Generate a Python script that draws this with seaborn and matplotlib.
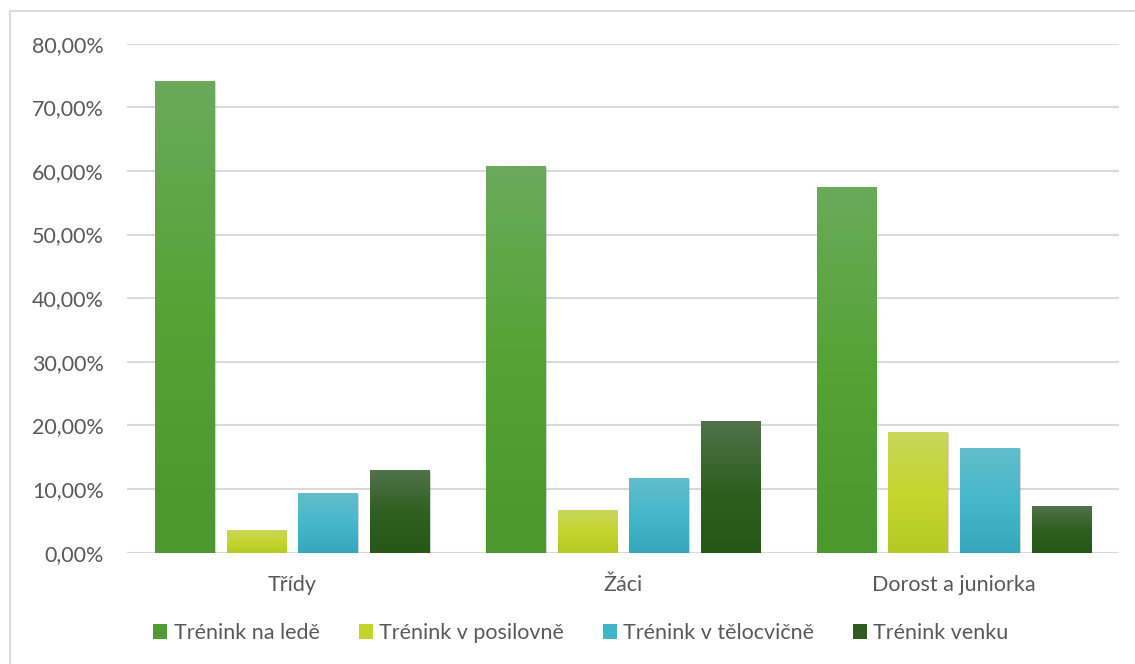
import numpy as np
import pandas as pd
import matplotlib
matplotlib.use("Agg")
import matplotlib.pyplot as plt
import matplotlib.patheffects as pe
from matplotlib.colors import to_rgb
from matplotlib.patches import Rectangle
from matplotlib.ticker import FuncFormatter
import seaborn as sns

# =========================
# DATA
# =========================

categories = ["Třídy", "Žáci", "Dorost a juniorka"]
series = ["Trénink na ledě", "Trénink v posilovně", "Trénink v tělocvičně", "Trénink venku"]

na_lede = [0.742, 0.608, 0.574]
posilovna = [0.036, 0.067, 0.190]
telocvicna = [0.094, 0.118, 0.165]
venku = [0.130, 0.207, 0.073]

colors = ["#4f9c33", "#c4d42e", "#3eb5c8", "#2d5c1e"]
# top / middle / bottom of the gradient fill for each series
gradients = [
    ["#6aaa5a", "#55a335", "#4a982e"],
    ["#c9d55a", "#c5d62f", "#b6c823"],
    ["#62bdcb", "#45b8cb", "#34a7ba"],
    ["#50724a", "#2f6020", "#275717"],
]

rows = []
for s, vals in zip(series, [na_lede, posilovna, telocvicna, venku]):
    for c, v in zip(categories, vals):
        rows.append({"kategorie": c, "serie": s, "hodnota": v})
df = pd.DataFrame(rows)

# =========================
# PLOT
# =========================

sns.set_theme(style="white")
plt.rcParams["font.family"] = ["Lato", "DejaVu Sans"]
TEXT = "#595959"
GRID = "#d9d9d9"
FS = 15.5

W, H = 1135, 664
fig = plt.figure(figsize=(W / 100, H / 100), dpi=100)
ax = fig.add_axes([126.7 / W, 1 - 552.7 / H, (1119 - 126.7) / W, (552.7 - 43.7) / H])

sns.barplot(data=df, x="kategorie", y="hodnota", hue="serie",
            order=categories, hue_order=series, palette=colors,
            width=0.866, gap=0.176, ax=ax, legend=True, saturation=1)

ax.set_ylim(0, 0.8)
xlim = ax.get_xlim()

# gradient fill clipped to each bar + soft shadow
for cont, grad in zip(ax.containers, gradients):
    top, mid, bot = [np.array(to_rgb(c)) for c in grad]
    n = 100
    t = np.linspace(0, 1, n)[:, None]
    col = np.where(t < 0.5, top + (mid - top) * (t / 0.5), mid + (bot - mid) * ((t - 0.5) / 0.5))
    img = col.reshape(n, 1, 3)
    for bar in cont:
        bar.set_edgecolor("none")
        bar.set_path_effects([pe.SimplePatchShadow(offset=(1.2, -1.2), shadow_rgbFace="#888888", alpha=0.35), pe.Normal()])
        x0, w, h = bar.get_x(), bar.get_width(), bar.get_height()
        im = ax.imshow(img, extent=[x0, x0 + w, 0, h], aspect="auto", origin="upper",
                       zorder=bar.get_zorder() + 0.1, interpolation="bilinear")
        im.set_clip_path(bar)

ax.set_xlim(xlim)
ax.set_ylim(0, 0.8)
ax.set_yticks(np.arange(0, 0.81, 0.1))
ax.yaxis.set_major_formatter(FuncFormatter(lambda v, p: f"{v * 100:.2f}%".replace(".", ",")))
ax.yaxis.grid(True, color=GRID, linewidth=1.5)
ax.set_axisbelow(True)
for sp in ax.spines.values():
    sp.set_visible(False)

ax.set_xlabel("")
ax.set_ylabel("")
ax.tick_params(axis="y", length=0, pad=16.5, labelsize=FS, labelcolor=TEXT)
ax.tick_params(axis="x", length=0, pad=16, labelsize=FS, labelcolor=TEXT)

ax.get_legend().remove()
handles = [Rectangle((0, 0), 1, 1, facecolor=c, edgecolor="none") for c in colors]
fig.legend(handles, series, loc="center", bbox_to_anchor=(581 / W, 1 - 633 / H),
           ncol=4, frameon=False, fontsize=FS, labelcolor=TEXT,
           handlelength=0.65, handleheight=0.65, handletextpad=0.3, columnspacing=1.8)

# chart frame (cropped at right/bottom)
fig.patches.append(Rectangle((9.6 / W, -0.05), 1.2, (H - 10.7) / H + 0.05,
                             transform=fig.transFigure, fill=False,
                             edgecolor="#d9d9d9", linewidth=1.3))

plt.savefig("out.png", dpi=100)
